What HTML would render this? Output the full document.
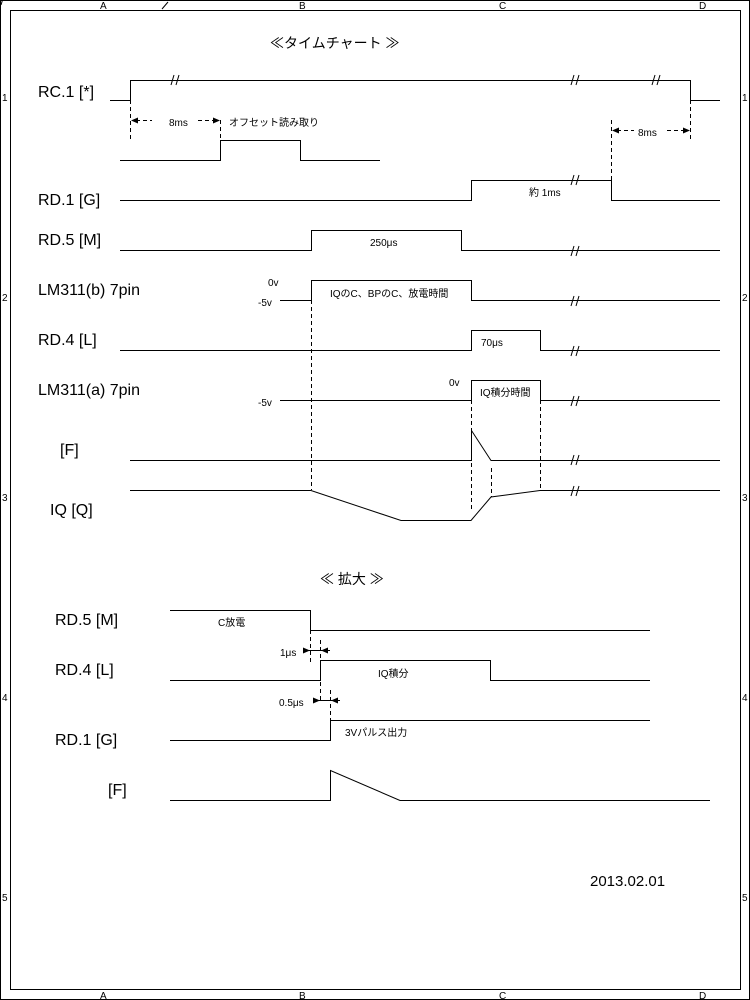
<!DOCTYPE html>
<html><head><meta charset="utf-8"><style>
html,body{margin:0;padding:0;background:#fff}
svg{display:block}
text{font-family:"Liberation Sans","Noto Sans CJK JP",sans-serif;fill:#000}
.l{font-size:16px}
.s{font-size:10px}
</style></head><body>
<svg width="750" height="1000" viewBox="0 0 750 1000" xmlns="http://www.w3.org/2000/svg">
<rect x="0.5" y="0.5" width="749" height="999" fill="#fff" stroke="#000"/>
<rect x="10.5" y="10.5" width="730" height="979" fill="none" stroke="#000"/>
<g>
<text x="100" y="9" class="s">A</text><text x="299" y="9" class="s">B</text><text x="499" y="9" class="s">C</text><text x="699" y="9" class="s">D</text>
<text x="100" y="999" class="s">A</text><text x="299" y="999" class="s">B</text><text x="499" y="999" class="s">C</text><text x="699" y="999" class="s">D</text>
<text x="2" y="101" class="s">1</text><text x="2" y="301" class="s">2</text><text x="2" y="501" class="s">3</text><text x="2" y="701" class="s">4</text><text x="2" y="901" class="s">5</text>
<text x="742" y="101" class="s">1</text><text x="742" y="301" class="s">2</text><text x="742" y="501" class="s">3</text><text x="742" y="701" class="s">4</text><text x="742" y="901" class="s">5</text>
</g>
<line x1="162" y1="9" x2="168" y2="2" stroke="#000"/>
<text x="270" y="48" style="font-size:14px">≪タイムチャート ≫</text>

<g fill="none" stroke="#000" stroke-width="1">
<polyline points="110,100.5 130.5,100.5 130.5,80.5 690.5,80.5 690.5,100.5 720,100.5"/>
<polyline points="120,160.5 220.5,160.5 220.5,140.5 300.5,140.5 300.5,160.5 380,160.5"/>
<polyline points="120,200.5 471.5,200.5 471.5,180.5 611.5,180.5 611.5,200.5 720,200.5"/>
<polyline points="120,250.5 311.5,250.5 311.5,230.5 461.5,230.5 461.5,250.5 720,250.5"/>
<polyline points="280,300.5 311.5,300.5 311.5,280.5 471.5,280.5 471.5,300.5 720,300.5"/>
<polyline points="120,350.5 471.5,350.5 471.5,330.5 540.5,330.5 540.5,350.5 720,350.5"/>
<polyline points="280,400.5 471.5,400.5 471.5,380.5 540.5,380.5 540.5,400.5 720,400.5"/>
<polyline points="130,460.5 471.5,460.5 471.5,430.5 491,460.5 720,460.5"/>
<polyline points="130,490.5 311,490.5 401,520.5 471,520.5 491,497 540,490.5 720,490.5"/>
<g stroke-dasharray="4,3">
<line x1="130.5" y1="100" x2="130.5" y2="142"/>
<line x1="220.5" y1="120" x2="220.5" y2="160"/>
<line x1="611.5" y1="120" x2="611.5" y2="200"/>
<line x1="690.5" y1="100" x2="690.5" y2="142"/>
<line x1="311.5" y1="300" x2="311.5" y2="490"/>
<line x1="471.5" y1="400" x2="471.5" y2="510"/>
<line x1="540.5" y1="400" x2="540.5" y2="490"/>
<line x1="491.5" y1="468" x2="491.5" y2="497"/>
<line x1="136" y1="120.5" x2="152" y2="120.5"/>
<line x1="198" y1="120.5" x2="216" y2="120.5"/>
<line x1="617" y1="130.5" x2="634" y2="130.5"/>
<line x1="667" y1="130.5" x2="686" y2="130.5"/>
</g>
</g>
<g fill="#000">
<polygon points="131,120.5 138,117.5 138,123.5"/>
<polygon points="220,120.5 213,117.5 213,123.5"/>
<polygon points="612,130.5 619,127.5 619,133.5"/>
<polygon points="690,130.5 683,127.5 683,133.5"/>
</g>
<g stroke="#000" stroke-width="1">
<g id="bk"><line x1="-4" y1="5" x2="-1" y2="-5"/><line x1="1" y1="5" x2="4" y2="-5"/></g>
<use href="#bk" x="175" y="80"/><use href="#bk" x="575" y="80"/><use href="#bk" x="656" y="80"/>
<use href="#bk" x="575" y="180"/><use href="#bk" x="575" y="251"/><use href="#bk" x="575" y="301"/>
<use href="#bk" x="575" y="351"/><use href="#bk" x="575" y="401"/><use href="#bk" x="575" y="460"/><use href="#bk" x="575" y="491"/>
</g>
<text class="s" x="169" y="126">8ms</text>
<text class="s" x="229" y="126">オフセット読み取り</text>
<text class="s" x="638" y="136">8ms</text>
<text class="s" x="529" y="196">約 1ms</text>
<text class="s" x="370" y="246">250μs</text>
<text class="s" x="268" y="286">0v</text>
<text class="s" x="258" y="306">-5v</text>
<text class="s" x="330" y="297">IQのC、BPのC、放電時間</text>
<text class="s" x="481" y="346">70μs</text>
<text class="s" x="449" y="386">0v</text>
<text class="s" x="258" y="406">-5v</text>
<text class="s" x="480" y="396">IQ積分時間</text>

<text class="l" x="38" y="97">RC.1 [*]</text>
<text class="l" x="38" y="205">RD.1 [G]</text>
<text class="l" x="38" y="245">RD.5 [M]</text>
<text class="l" x="38" y="295">LM311(b) 7pin</text>
<text class="l" x="38" y="345">RD.4 [L]</text>
<text class="l" x="38" y="395">LM311(a) 7pin</text>
<text class="l" x="60" y="455">[F]</text>
<text class="l" x="50" y="515">IQ [Q]</text>

<text x="320" y="584" style="font-size:14px">≪ 拡大 ≫</text>
<text class="l" x="55" y="625">RD.5 [M]</text>
<text class="l" x="55" y="675">RD.4 [L]</text>
<text class="l" x="55" y="745">RD.1 [G]</text>
<text class="l" x="108" y="795">[F]</text>
<g fill="none" stroke="#000">
<polyline points="170,610.5 310.5,610.5 310.5,630.5 650,630.5"/>
<polyline points="170,680.5 320.5,680.5 320.5,660.5 490.5,660.5 490.5,680.5 650,680.5"/>
<polyline points="170,740.5 330.5,740.5 330.5,720.5 650,720.5"/>
<polyline points="170,800.5 330.5,800.5 330.5,770.5 400,800.5 710,800.5"/>
<g stroke-dasharray="4,3">
<line x1="310.5" y1="630" x2="310.5" y2="665"/>
<line x1="320.5" y1="640" x2="320.5" y2="700"/>
<line x1="330.5" y1="690" x2="330.5" y2="720"/>
</g>
<line x1="303" y1="650.5" x2="330" y2="650.5"/>
<line x1="313" y1="700.5" x2="340" y2="700.5"/>
</g>
<g fill="#000">
<polygon points="310,650.5 303,647.5 303,653.5"/>
<polygon points="321,650.5 328,647.5 328,653.5"/>
<polygon points="320,700.5 313,697.5 313,703.5"/>
<polygon points="331,700.5 338,697.5 338,703.5"/>
</g>
<text class="s" x="218" y="626">C放電</text>
<text class="s" x="280" y="656">1μs</text>
<text class="s" x="378" y="677">IQ積分</text>
<text class="s" x="279" y="706">0.5μs</text>
<text class="s" x="345" y="736">3Vパルス出力</text>
<text x="590" y="886" style="font-size:15px">2013.02.01</text>
</svg>
</body></html>
